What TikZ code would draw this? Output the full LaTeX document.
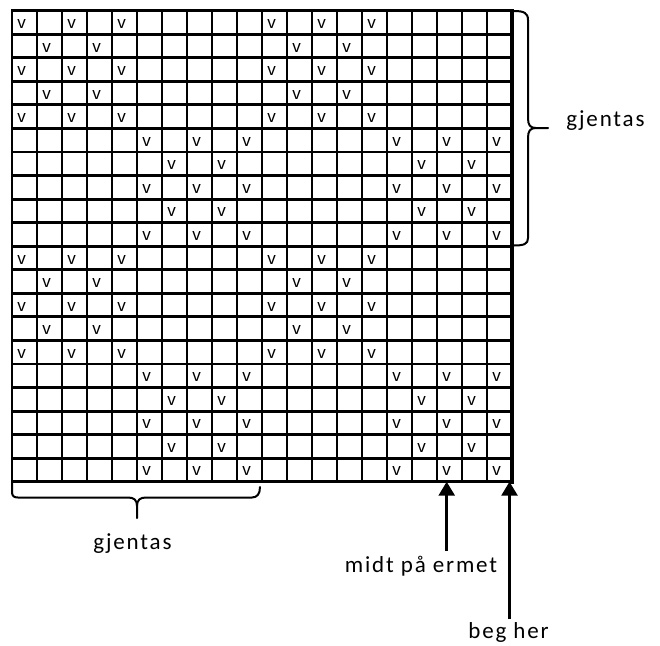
\documentclass[tikz,border=0pt]{standalone}
\usepackage{fontspec}
\setmainfont{Carlito}
\newfontfamily\vfont{Liberation Sans}
\usetikzlibrary{arrows.meta}
\begin{document}
\begin{tikzpicture}[x=1pt,y=-1pt,
  gridline/.style={line width=2.9pt, line cap=rect},
  edgeline/.style={line width=4pt, line cap=rect},
  vmark/.style={font=\vfont\fontsize{17}{17}\selectfont, inner sep=0pt, anchor=base},
  txtlabel/.style={font=\fontsize{23}{27}\selectfont\addfontfeatures{LetterSpace=8}, inner sep=0pt, anchor=base},
  bracestyle/.style={line width=2pt, line join=round, line cap=round},
  pointer/.style={line width=2.7pt, -{Triangle[length=14pt,width=16pt]}}]
\useasboundingbox (0,0) rectangle (660,645);
% grid
\foreach \i in {0,...,20} \draw[gridline] (12,{10.7+23.55*\i}) -- (512,{10.7+23.55*\i});
\foreach \j in {0,...,19} \draw[gridline] ({12+25*\j},10.7) -- ({12+25*\j},481.7);
\draw[edgeline] (512,10.7) -- (512,481.7);
% v marks
\foreach \r in {1,3,5,11,13,15} \foreach \c in {1,3,5,11,13,15}
  \node[vmark] (v-\r-\c) at ({12+25*(\c-1)+9.5},{10.7+23.55*(\r-1)+17.8}) {v};
\foreach \r in {2,4,12,14} \foreach \c in {2,4,12,14}
  \node[vmark] (v-\r-\c) at ({12+25*(\c-1)+9.5},{10.7+23.55*(\r-1)+17.8}) {v};
\foreach \r in {6,8,10,16,18,20} \foreach \c in {6,8,10,16,18,20}
  \node[vmark] (v-\r-\c) at ({12+25*(\c-1)+9.5},{10.7+23.55*(\r-1)+17.8}) {v};
\foreach \r in {7,9,17,19} \foreach \c in {7,9,17,19}
  \node[vmark] (v-\r-\c) at ({12+25*(\c-1)+9.5},{10.7+23.55*(\r-1)+17.8}) {v};
% bottom brace
\draw[bracestyle] (12,482) -- (12,492) .. controls (12,496) and (14,497.5) .. (18,497.5)
  -- (128,497.5) .. controls (134,497.5) and (137,500) .. (137,506) -- (137,518);
\draw[bracestyle] (137,506) .. controls (137,500) and (140,497.5) .. (146,497.5)
  -- (252,497.5) .. controls (257,497.5) and (260,494) .. (260,487);
% right brace
\draw[bracestyle] (514,11) .. controls (524,11) and (528,13) .. (528,20)
  -- (528,118) .. controls (528,125) and (530,128) .. (536,128) -- (548,128);
\draw[bracestyle] (536,128) .. controls (530,128) and (528,131) .. (528,138)
  -- (528,238) .. controls (528,244) and (524,245.5) .. (514,245.5);
% arrows
\coordinate (midttip) at (446.7,481.7);
\coordinate (midtfoot) at (446.7,551);
\coordinate (begtip) at (509.5,481.7);
\coordinate (begfoot) at (509.5,619);
\draw[pointer] (midtfoot) -- (midttip);
\draw[pointer] (begfoot) -- (begtip);
% labels
\node[txtlabel] (gjentasR) at (605.5,126.5) {gjentas};
\node[txtlabel] (gjentasB) at (132.5,549) {gjentas};
\node[txtlabel] (midt) at (421,572) {midt på ermet};
\node[txtlabel] (beg) at (508.5,638) {beg her};
\end{tikzpicture}
\end{document}
